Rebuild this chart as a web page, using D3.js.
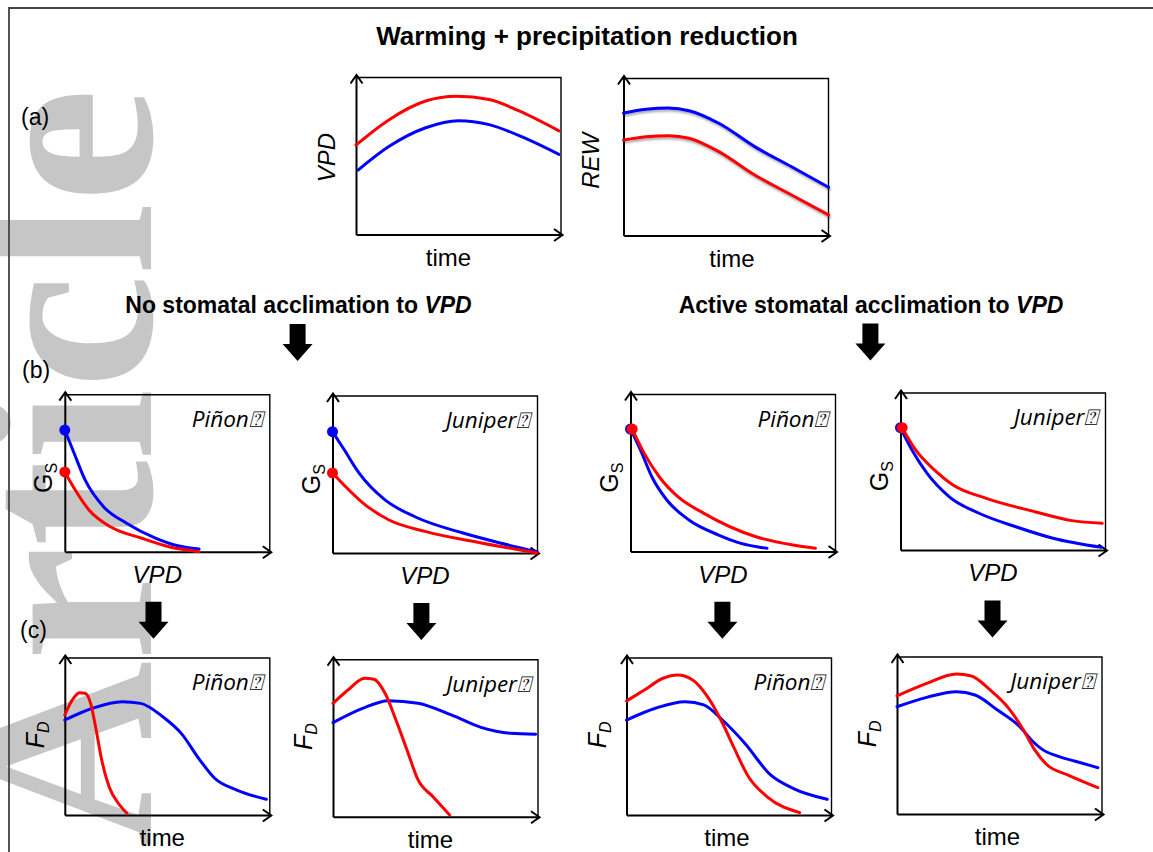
<!DOCTYPE html>
<html>
<head>
<meta charset="utf-8">
<script src="https://cdn.jsdelivr.net/npm/d3@7"></script>
<style>
  body { margin: 0; background: #fff; }
  svg { display: block; }
  text { font-family: Arial, "Liberation Sans", sans-serif; fill: #000; }
</style>
</head>
<body>
<svg width="1153" height="852"></svg>
<script>
// ---- text ----
const titleText = "Warming + precipitation reduction";
const scenarios = ["No stomatal acclimation to ", "Active stomatal acclimation to "];
const panelTags = ["(a)", "(b)", "(c)"];
const species = ["Piñon⍰", "Juniper⍰"];

// ---- curves, [x, y] in 0-100 panel units ----
// (a) drivers over time
const vpdRed  = [[0,57],[16,73],[34,85],[49,88],[65,86],[79,79],[99,66]];
const vpdBlue = [[1,41],[16,56],[34,68],[50,72.5],[65,70],[83,61],[99,51]];
const rewBlue = [[0,78],[11,80.4],[22,81.2],[32,79.5],[46.5,71.5],[64,56.6],[82,43.8],[100,30.7]];
const rewRed  = [[0,60.8],[11,62.9],[22,63.6],[32,61.9],[46.5,53.4],[64,38.5],[82,25.8],[100,13.1]];

// (b) Gs against VPD
const gsPinonNoBlue = [[0,77.5],[4.5,62.9],[9.9,45.7],[19,28.5],[29.9,18.3],[44.2,8.7],[55.1,3.8],[65.5,1.7]];
const gsPinonNoRed  = [[0,50.8],[4.5,40.6],[11.8,26.6],[22.5,15.7],[37.2,8.7],[51.3,3],[65.5,0]];
const gsJuniperNoBlue = [[0,77.3],[5.8,65.6],[12.9,51],[25.6,33.8],[40.2,23.1],[63.7,12.7],[81.7,6.4],[99.8,0.8]];
const gsJuniperNoRed  = [[0,51],[5.6,43.3],[14.9,31.8],[27.6,21],[45.6,13.6],[72.7,6.4],[99.8,0]];
const gsPinonActBlue = [[0,78],[4.9,64.6],[10.4,47.6],[17.7,32.8],[28.5,20.1],[43,10.5],[53.9,5.2],[66.6,2]];
const gsPinonActRed  = [[0.8,78],[6.7,62.5],[14,47.6],[23.1,34.9],[35.8,24.3],[61.2,9.4],[79.3,4.1],[90.2,2]];
const gsJuniperActBlue = [[0,77.9],[5.6,63.7],[12.9,48.9],[23.8,33.9],[38.3,23.4],[56.3,14.8],[74.4,7.5],[98.1,1.7]];
const gsJuniperActRed  = [[0.8,77.9],[7.4,63.7],[16.5,51],[25.6,41.4],[41.9,32.9],[65.5,24.4],[83.6,18.7],[98.4,17]];

// (c) FD over time
const fdPinonNoBlue = [[0,60.5],[13.5,68],[27.9,72.2],[37,71.1],[47.8,62.6],[56.8,52],[65.9,35],[73.1,23.4],[83.9,15.9],[98.3,10]];
const fdPinonNoRed  = [[0,63.7],[3.6,73.2],[7.2,77.9],[9.9,77.5],[12.6,71.1],[15.3,54.1],[18,35],[21.6,18],[26.1,7.5],[30.3,1.1]];
const fdJuniperNoBlue = [[0,59.9],[14.4,69],[27.1,73.9],[41.5,72.2],[57.7,64.8],[72.2,56.9],[86.6,53.1],[98.9,52.5]];
const fdJuniperNoRed  = [[0,72.2],[7.3,80.7],[15.4,88.2],[20,87.5],[25.4,78.6],[30.7,61.6],[36.1,42.5],[41.5,23.4],[48.8,12.7],[56.9,1.1]];
const fdPinonActBlue = [[0,60.5],[14.1,68],[28.6,72.2],[37.7,70.1],[46.8,60.5],[57.7,45.7],[70.3,25.5],[81.2,17],[97.9,10]];
const fdPinonActRed  = [[0,72.6],[8.7,79.6],[17.8,87.1],[25,89.2],[32.3,86],[39.5,75.4],[46.8,58.6],[52.2,43.5],[59.5,24.4],[68.5,11.7],[84.5,1.5]];
const fdJuniperActBlue = [[0,68.3],[14.5,74.3],[29,77.9],[38.1,75.8],[49,66.2],[59.9,55.6],[66,46.5],[71,41],[78,37],[87,33.6],[98,29.5]];
const fdJuniperActRed  = [[0,75.2],[14.5,83.2],[29,89.2],[36.3,87.9],[45.4,79],[54.5,67.3],[61.7,53.5],[67.2,40.8],[73,31.5],[83.5,24.8],[98,16.8]];

// ---- layout ----
const W = 205, H = 157;
const RED = "#ff0000", BLUE = "#0000ff";

const panels = [
  { left: 356,   bottom: 234.5, blue: vpdBlue, red: vpdRed, yLab: "VPD", yKind: "italic", yDx: 21, yFrac: 0.49, xLab: "time", xKind: "plain", xOff: -10 },
  { left: 623.5, bottom: 235.5, blue: rewBlue, red: rewRed, yLab: "REW", yKind: "italic", yDx: 25, yFrac: 0.476, xLab: "time", xKind: "plain", xOff: 6, shadow: true },
  { left: 64.8,  bottom: 551.7, blue: gsPinonNoBlue, red: gsPinonNoRed, yLab: "G", ySub: "S", yKind: "plain", yDx: 13, yFrac: 0.47, xLab: "VPD", xKind: "italic", xOff: -10, dots: true, sp: 0 },
  { left: 332.5, bottom: 553,   blue: gsJuniperNoBlue, red: gsJuniperNoRed, yLab: "G", ySub: "S", yKind: "plain", yDx: 13, yFrac: 0.47, xLab: "VPD", xKind: "italic", xOff: -10, dots: true, sp: 1 },
  { left: 630.5, bottom: 551.5, blue: gsPinonActBlue, red: gsPinonActRed, yLab: "G", ySub: "S", yKind: "plain", yDx: 13, yFrac: 0.47, xLab: "VPD", xKind: "italic", xOff: -10, dots: true, sp: 0 },
  { left: 900.5, bottom: 550,   blue: gsJuniperActBlue, red: gsJuniperActRed, yLab: "G", ySub: "S", yKind: "plain", yDx: 13, yFrac: 0.47, xLab: "VPD", xKind: "italic", xOff: -10, dots: true, sp: 1 },
  { left: 64.8,  bottom: 815,   blue: fdPinonNoBlue, red: fdPinonNoRed, yLab: "F", ySub: "D", yKind: "italic", yDx: 21, yFrac: 0.51, xLab: "time", xKind: "plain", xOff: -5, sp: 0 },
  { left: 333,   bottom: 816.7, blue: fdJuniperNoBlue, red: fdJuniperNoRed, yLab: "F", ySub: "D", yKind: "italic", yDx: 21, yFrac: 0.51, xLab: "time", xKind: "plain", xOff: -5, sp: 1 },
  { left: 626.5, bottom: 815,   blue: fdPinonActBlue, red: fdPinonActRed, yLab: "F", ySub: "D", yKind: "italic", yDx: 21, yFrac: 0.51, xLab: "time", xKind: "plain", xOff: -2, sp: 0 },
  { left: 897,   bottom: 814,   blue: fdJuniperActBlue, red: fdJuniperActRed, yLab: "F", ySub: "D", yKind: "italic", yDx: 21, yFrac: 0.51, xLab: "time", xKind: "plain", xOff: -2, sp: 1 },
];

// block arrows: centre x, top y
const bigArrows = [[297.6, 324], [870.4, 323.5], [153.5, 601.7], [421.4, 603], [722.4, 601.7], [992.5, 600.5]];

const svg = d3.select("svg");
const defs = svg.append("defs");

defs.append("marker")
  .attr("id", "chev")
  .attr("viewBox", "0 0 12 14")
  .attr("refX", 10).attr("refY", 7)
  .attr("markerUnits", "userSpaceOnUse")
  .attr("markerWidth", 12).attr("markerHeight", 14)
  .attr("orient", "auto")
  .append("path")
  .attr("d", "M1.5,1 L10,7 L1.5,13")
  .attr("fill", "none").attr("stroke", "#000").attr("stroke-width", 2);

defs.append("filter").attr("id", "shade")
  .attr("x", "-5%").attr("y", "-20%").attr("width", "110%").attr("height", "140%")
  .append("feDropShadow")
  .attr("dx", 1).attr("dy", 2).attr("stdDeviation", 1.3)
  .attr("flood-color", "#000").attr("flood-opacity", 0.35);

// watermark
svg.append("text")
  .attr("transform", "translate(151,88) rotate(-90)")
  .attr("text-anchor", "end")
  .style("font-family", "'Liberation Serif', 'Times New Roman', serif")
  .style("font-weight", "bold")
  .style("font-size", "258px")
  .style("fill", "#c6c6c6")
  .text("Article");

// page border
svg.append("path")
  .attr("d", "M9,852 V8 H1153")
  .attr("fill", "none").attr("stroke", "#444").attr("stroke-width", 1.8);

// headings
svg.append("text").attr("x", 587).attr("y", 44.5).attr("text-anchor", "middle")
  .style("font-weight", "bold").style("font-size", "26px").text(titleText);

[[298.5, 313], [871, 313]].forEach(([cx, cy], i) => {
  const t = svg.append("text").attr("x", cx).attr("y", cy).attr("text-anchor", "middle")
    .style("font-weight", "bold").style("font-size", "23px");
  t.append("tspan").text(scenarios[i]);
  t.append("tspan").style("font-style", "italic").text("VPD");
});

[[21, 125], [22, 378], [20, 638]].forEach(([x, y], i) => {
  svg.append("text").attr("x", x).attr("y", y).style("font-size", "23px").text(panelTags[i]);
});

svg.selectAll(".bigarrow").data(bigArrows).enter().append("path")
  .attr("class", "bigarrow")
  .attr("d", d => {
    const p = d3.path(), cx = d[0], t = d[1];
    p.moveTo(cx - 8, t); p.lineTo(cx + 8, t); p.lineTo(cx + 8, t + 20);
    p.lineTo(cx + 15, t + 20); p.lineTo(cx, t + 37); p.lineTo(cx - 15, t + 20);
    p.lineTo(cx - 8, t + 20); p.closePath();
    return p.toString();
  })
  .attr("fill", "#000");

function drawPanel(p) {
  const x = d3.scaleLinear().domain([0, 100]).range([p.left, p.left + W]);
  const y = d3.scaleLinear().domain([0, 100]).range([p.bottom, p.bottom - H]);
  const g = svg.append("g");

  // frame (top and right)
  g.append("path")
    .attr("d", `M${x(0)},${y(100)}H${x(100)}V${y(0)}`)
    .attr("fill", "none").attr("stroke", "#000").attr("stroke-width", 1.4);

  // axes with open arrowheads
  const xa = x.copy().range([p.left, p.left + W + 1]);
  const ya = y.copy().range([p.bottom, p.bottom - H - 3]);
  const gx = g.append("g").attr("transform", `translate(0,${p.bottom})`)
    .call(d3.axisBottom(xa).tickValues([]).tickSizeOuter(0));
  const gy = g.append("g").attr("transform", `translate(${p.left},0)`)
    .call(d3.axisLeft(ya).tickValues([]).tickSizeOuter(0));
  [gx, gy].forEach(a => a.select(".domain")
    .attr("stroke", "#000").attr("stroke-width", 2).attr("marker-end", "url(#chev)"));

  const line = d3.line().x(d => x(d[0])).y(d => y(d[1])).curve(d3.curveMonotoneX);
  [[p.blue, BLUE], [p.red, RED]].forEach(([pts, col]) => {
    g.append("path").datum(pts)
      .attr("d", line)
      .attr("fill", "none").attr("stroke", col).attr("stroke-width", 3)
      .attr("stroke-linecap", "round")
      .attr("filter", p.shadow ? "url(#shade)" : null);
  });

  if (p.dots) {
    [[p.blue, BLUE], [p.red, RED]].forEach(([pts, col]) => {
      g.append("circle").attr("cx", x(pts[0][0])).attr("cy", y(pts[0][1]))
        .attr("r", 5.5).attr("fill", col);
    });
  }

  if (p.sp !== undefined) {
    g.append("text").attr("x", x(100) - 7).attr("y", y(100) + 32)
      .attr("text-anchor", "end")
      .style("font-family", "'Open Sans', 'Noto Sans', 'DejaVu Sans', sans-serif")
      .style("font-style", "italic").style("font-size", "22.5px")
      .text(species[p.sp]);
  }

  // y label (rotated)
  const yl = g.append("text")
    .attr("transform", `translate(${x(0) - p.yDx},${p.bottom - H * p.yFrac}) rotate(-90)`)
    .attr("text-anchor", "middle")
    .style("font-size", p.ySub ? "25px" : "24px")
    .style("font-style", p.yKind === "italic" ? "italic" : "normal");
  yl.append("tspan").text(p.yLab);
  if (p.ySub) yl.append("tspan").attr("dy", 5).style("font-size", "16px").text(p.ySub);

  // x label
  g.append("text").attr("x", x(50) + p.xOff).attr("y", p.bottom + 31)
    .attr("text-anchor", "middle")
    .style("font-size", "24px")
    .style("font-style", p.xKind === "italic" ? "italic" : "normal")
    .text(p.xLab);
}

panels.forEach(drawPanel);
</script>
</body>
</html>
